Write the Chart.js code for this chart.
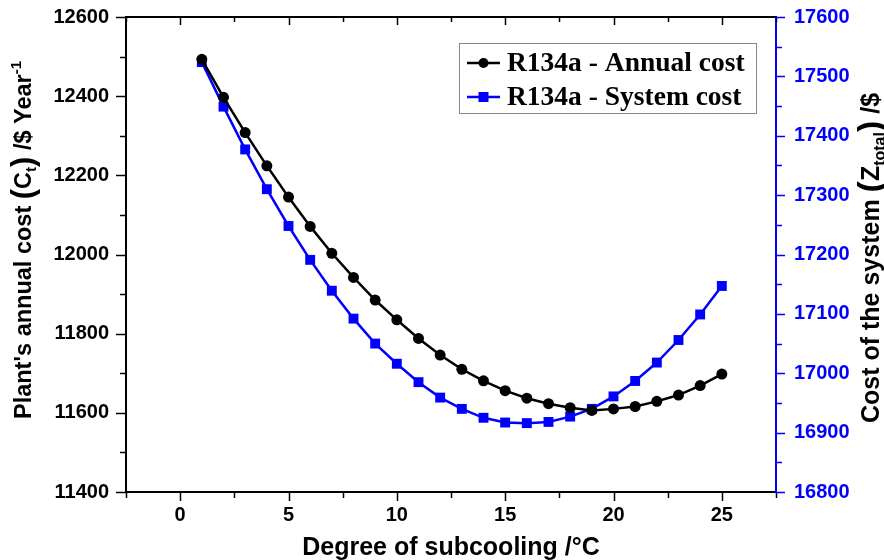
<!DOCTYPE html>
<html>
<head>
<meta charset="utf-8">
<script src="https://cdn.jsdelivr.net/npm/chart.js@4/dist/chart.umd.min.js"></script>
<style>
  html, body { margin: 0; padding: 0; background: #ffffff; }
  #wrap { width: 884px; height: 560px; }
</style>
</head>
<body>
<div id="wrap"><canvas id="chart" width="884" height="560"></canvas></div>
<script>
// Degree of subcooling (°C)
const subcooling = [1, 2, 3, 4, 5, 6, 7, 8, 9, 10, 11, 12, 13, 14, 15, 16, 17, 18, 19, 20, 21, 22, 23, 24, 25];
// Plant's annual cost, $ / year (left axis)
const annualCost = [12493, 12397, 12308, 12224, 12145, 12071, 12003, 11942, 11885, 11835, 11788, 11746, 11710,
                    11681, 11656, 11637, 11623, 11613, 11606, 11610, 11616, 11629, 11645, 11669, 11698];
// Total system cost, $ (right axis)
const systemCost = [17524, 17449, 17377, 17310, 17248, 17191, 17139, 17092, 17050, 17016, 16985, 16959, 16940,
                    16925, 16917, 16916, 16918, 16927, 16940, 16961, 16987, 17018, 17056, 17099, 17147];

const seriesLabels = ['R134a - Annual cost', 'R134a - System cost'];
const xTicks = [0, 5, 10, 15, 20, 25];
const xMinorTicks = [-2.5, 2.5, 7.5, 12.5, 17.5, 22.5, 27.5];
const leftTicks = [11400, 11600, 11800, 12000, 12200, 12400, 12600];
const leftMinorTicks = [11500, 11700, 11900, 12100, 12300, 12500];
const rightTicks = [16800, 16900, 17000, 17100, 17200, 17300, 17400, 17500, 17600];
const rightMinorTicks = [16850, 16950, 17050, 17150, 17250, 17350, 17450, 17550];

const BLACK = '#000000';
const BLUE = '#0000ff';
const SANS = '"Liberation Sans", Arial, sans-serif';
const SERIF = '"Liberation Serif", "Times New Roman", serif';

const toPoints = (xs, ys) => xs.map((x, i) => ({ x: x, y: ys[i] }));
const plainNumber = v => String(v);

// fixed axis band sizes; end labels are allowed to overhang the plot area
function fixWidth(w) {
  return s => { s.width = w; s.paddingTop = 0; s.paddingBottom = 0; };
}

// Draw a line of text made of styled runs (sub/superscripts, large brackets), centred at (cx, cy).
function drawRuns(ctx, runs, cx, cy, angle) {
  ctx.save();
  ctx.translate(cx, cy);
  ctx.rotate(angle);
  ctx.textBaseline = 'alphabetic';
  ctx.textAlign = 'left';
  let total = 0;
  runs.forEach(r => { ctx.font = r.font; r.w = ctx.measureText(r.text).width + (r.gap || 0); total += r.w; });
  let x = -total / 2;
  runs.forEach(r => {
    ctx.font = r.font;
    ctx.fillStyle = r.color || BLACK;
    ctx.fillText(r.text, x, r.dy || 0);
    x += r.w;
  });
  ctx.restore();
}

const framePlugin = {
  id: 'frameAndAnnotations',
  afterDraw(chart) {
    const ctx = chart.ctx;
    const a = chart.chartArea;
    const xs = chart.scales.x, yl = chart.scales.yLeft, yr = chart.scales.yRight;

    ctx.save();
    ctx.lineCap = 'butt';
    ctx.lineWidth = 2;

    // frame: left, bottom, top in black; right axis in blue
    ctx.strokeStyle = BLACK;
    ctx.beginPath();
    ctx.moveTo(a.left, a.top); ctx.lineTo(a.left, a.bottom);
    ctx.moveTo(a.left - 1, a.bottom); ctx.lineTo(a.right + 1, a.bottom);
    ctx.moveTo(a.left - 1, a.top); ctx.lineTo(a.right + 1, a.top);
    ctx.stroke();
    ctx.strokeStyle = BLUE;
    ctx.beginPath();
    ctx.moveTo(a.right, a.top); ctx.lineTo(a.right, a.bottom);
    ctx.stroke();

    // tick marks
    ctx.lineWidth = 1.5;
    ctx.strokeStyle = BLACK;
    ctx.beginPath();
    xTicks.forEach(v => {
      const p = Math.round(xs.getPixelForValue(v)) + 0.5;
      ctx.moveTo(p, a.bottom); ctx.lineTo(p, a.bottom + 9);
      ctx.moveTo(p, a.top); ctx.lineTo(p, a.top + 8);
    });
    xMinorTicks.forEach(v => {
      const p = Math.round(xs.getPixelForValue(v)) + 0.5;
      ctx.moveTo(p, a.bottom); ctx.lineTo(p, a.bottom + 6);
      ctx.moveTo(p, a.top); ctx.lineTo(p, a.top + 5);
    });
    leftTicks.forEach(v => {
      const p = Math.round(yl.getPixelForValue(v)) + 0.5;
      ctx.moveTo(a.left, p); ctx.lineTo(a.left - 10, p);
    });
    leftMinorTicks.forEach(v => {
      const p = Math.round(yl.getPixelForValue(v)) + 0.5;
      ctx.moveTo(a.left, p); ctx.lineTo(a.left - 6, p);
    });
    ctx.stroke();
    ctx.strokeStyle = BLUE;
    ctx.beginPath();
    rightTicks.forEach(v => {
      const p = Math.round(yr.getPixelForValue(v)) + 0.5;
      ctx.moveTo(a.right, p); ctx.lineTo(a.right + 9, p);
    });
    rightMinorTicks.forEach(v => {
      const p = Math.round(yr.getPixelForValue(v)) + 0.5;
      ctx.moveTo(a.right, p); ctx.lineTo(a.right + 6, p);
    });
    ctx.stroke();

    // axis titles
    const T = 'bold 23.5px ' + SANS;
    const TX = 'bold 25px ' + SANS;
    const S = 'bold 15px ' + SANS;
    const P = 'bold 31px ' + SANS;
    ctx.fillStyle = BLACK;
    ctx.font = TX;
    ctx.textAlign = 'center';
    ctx.textBaseline = 'alphabetic';
    ctx.fillText('Degree of subcooling /°C', (a.left + a.right) / 2, 555);

    drawRuns(ctx, [
      { text: "Plant's annual cost ", font: T },
      { text: '(', font: P, dy: 2 },
      { text: 'C', font: T },
      { text: 't', font: S, dy: 5 },
      { text: ')', font: P, dy: 2 },
      { text: ' /$ Year', font: T },
      { text: '-1', font: S, dy: -10 }
    ], 31, 240, -Math.PI / 2);

    drawRuns(ctx, [
      { text: 'Cost of the system ', font: TX },
      { text: '(', font: 'bold 34px ' + SANS, dy: 2 },
      { text: 'Z', font: TX },
      { text: 'total', font: 'bold 16px ' + SANS, dy: 6 },
      { text: ')', font: 'bold 34px ' + SANS, dy: 2 },
      { text: ' /$', font: TX }
    ], 879, 258, -Math.PI / 2);

    // legend box with line + marker samples
    const box = { x: 459.5, y: 43.5, w: 297, h: 70 };
    ctx.lineWidth = 1;
    ctx.strokeStyle = '#8a8a8a';
    ctx.strokeRect(box.x, box.y, box.w, box.h);
    const rows = [63, 97];
    chart.data.datasets.forEach((ds, i) => {
      const y = rows[i];
      ctx.strokeStyle = ds.borderColor;
      ctx.lineWidth = 2.5;
      ctx.beginPath();
      ctx.moveTo(467, y); ctx.lineTo(500, y);
      ctx.stroke();
      ctx.fillStyle = ds.borderColor;
      if (ds.pointStyle === 'rect') {
        ctx.fillRect(483.5 - 5, y - 5, 10, 10);
      } else {
        ctx.beginPath();
        ctx.arc(483.5, y, 5, 0, Math.PI * 2);
        ctx.fill();
      }
      ctx.fillStyle = BLACK;
      ctx.font = 'bold 27.5px ' + SERIF;
      ctx.textAlign = 'left';
      ctx.textBaseline = 'middle';
      ctx.fillText(ds.label, 507, y + 1);
    });
    ctx.restore();
  }
};

new Chart(document.getElementById('chart'), {
  type: 'line',
  data: {
    datasets: [
      {
        label: seriesLabels[0],
        data: toPoints(subcooling, annualCost),
        yAxisID: 'yLeft',
        borderColor: BLACK,
        backgroundColor: BLACK,
        borderWidth: 2.5,
        pointStyle: 'circle',
        pointRadius: 5.5,
        pointBorderWidth: 0,
        tension: 0
      },
      {
        label: seriesLabels[1],
        data: toPoints(subcooling, systemCost),
        yAxisID: 'yRight',
        borderColor: BLUE,
        backgroundColor: BLUE,
        borderWidth: 2.5,
        pointStyle: 'rect',
        pointRadius: 7,
        pointBorderWidth: 0,
        tension: 0
      }
    ]
  },
  options: {
    responsive: false,
    animation: false,
    devicePixelRatio: 1,
    layout: { padding: { top: 17, left: 0, right: 0, bottom: 0 } },
    plugins: { legend: { display: false }, tooltip: { enabled: false } },
    scales: {
      x: {
        type: 'linear',
        position: 'bottom',
        min: -2.5,
        max: 27.5,
        afterBuildTicks: s => { s.ticks = xTicks.map(v => ({ value: v })); },
        afterFit: s => { s.height = 68; s.paddingLeft = 0; s.paddingRight = 0; },
        grid: { display: false, drawTicks: false },
        border: { display: false },
        ticks: { color: BLACK, padding: 11, callback: plainNumber, font: { family: SANS, size: 20, weight: 'bold' }, maxRotation: 0 }
      },
      yLeft: {
        type: 'linear',
        position: 'left',
        min: 11400,
        max: 12600,
        afterBuildTicks: s => { s.ticks = leftTicks.map(v => ({ value: v })); },
        afterFit: fixWidth(126),
        grid: { display: false, drawTicks: false },
        border: { display: false },
        ticks: { color: BLACK, padding: 17, callback: plainNumber, font: { family: SANS, size: 20, weight: 'bold' } }
      },
      yRight: {
        type: 'linear',
        position: 'right',
        min: 16800,
        max: 17600,
        afterBuildTicks: s => { s.ticks = rightTicks.map(v => ({ value: v })); },
        afterFit: fixWidth(108),
        grid: { display: false, drawTicks: false },
        border: { display: false },
        ticks: { color: BLUE, padding: 18, callback: plainNumber, font: { family: SANS, size: 20, weight: 'bold' } }
      }
    }
  },
  plugins: [framePlugin]
});
</script>
</body>
</html>
